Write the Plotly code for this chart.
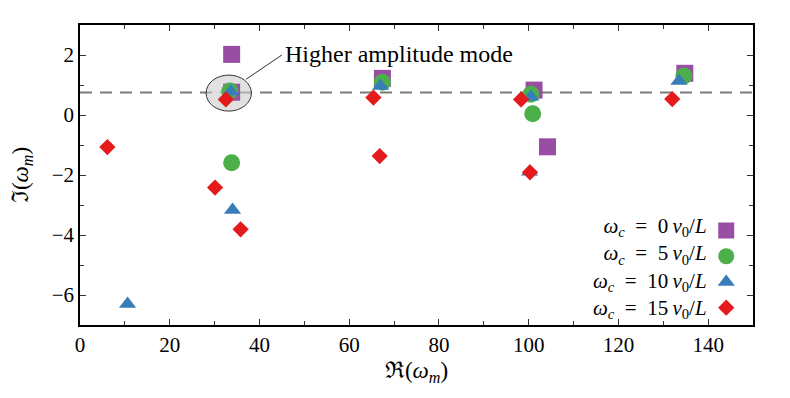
import plotly.graph_objects as go

# ---- data ----
re_w0 = [33.8, 33.8, 67.4, 101.2, 104.2, 134.8]
im_w0 = [2.02, 0.76, 1.22, 0.83, -1.06, 1.39]

re_w5 = [33.4, 33.8, 67.4, 100.5, 100.9, 134.6]
im_w5 = [0.80, -1.59, 1.09, 0.69, 0.04, 1.30]

re_w10 = [10.6, 34.0, 33.6, 67.0, 100.5, 100.2, 133.5]
im_w10 = [-6.30, -3.17, 0.78, 0.97, 0.61, -1.89, 1.13]

re_w15 = [6.1, 30.1, 32.5, 35.8, 65.4, 66.8, 98.3, 100.3, 132.0]
im_w15 = [-1.07, -2.42, 0.52, -3.81, 0.58, -1.37, 0.52, -1.91, 0.53]

threshold = 0.75
x_ticks = [0, 20, 40, 60, 80, 100, 120, 140]
y_ticks = [-6, -4, -2, 0, 2]

wc_values = ["0", "5", "10", "15"]
labels = ["<i>ω</i><sub><i>c</i></sub>\u2002=\u2002%s\u2009<i>v</i><sub>0</sub>/<i>L</i>" % v
          for v in wc_values]

FONT = "Liberation Serif"

series = [
    (re_w0, im_w0, labels[0], "#984ea3", "square", 17),
    (re_w5, im_w5, labels[1], "#4daf4a", "circle", 17),
    (re_w10, im_w10, labels[2], "#377eb8", "triangle-up", 15),
    (re_w15, im_w15, labels[3], "#e41a1c", "diamond", 12.5),
]

fig = go.Figure()
for xs, ys, name, color, sym, size in series:
    fig.add_trace(go.Scatter(
        x=xs, y=ys, mode="markers", name="\u00a0",
        marker=dict(color=color, symbol=sym, size=size, line=dict(width=0)),
    ))

# dashed reference line
fig.add_shape(type="line", xref="x", yref="y", x0=0, x1=150, y0=threshold, y1=threshold,
              line=dict(color="#7a7a7a", width=2, dash="12px,8px"), layer="below")
# ellipse around higher amplitude mode
fig.add_shape(type="circle", xref="x", yref="y", x0=28.1, x1=38.2, y0=0.13, y1=1.33,
              fillcolor="rgba(205,205,205,0.6)", line=dict(color="#333333", width=1), layer="below")
# connector line
fig.add_shape(type="line", xref="x", yref="y", x0=37.0, y0=1.19, x1=45.0, y1=2.0,
              line=dict(color="#333333", width=1))
fig.add_annotation(x=45.3, y=2.03, xref="x", yref="y", text="Higher amplitude mode",
                   showarrow=False, xanchor="left", yanchor="middle",
                   font=dict(family=FONT, size=24, color="black"))

# legend labels, right-aligned to the left of the legend markers
fig.add_annotation(x=0.935, y=0.19, xref="paper", yref="paper", text="<br>".join(labels),
                   showarrow=False, xanchor="right", yanchor="middle", align="right",
                   font=dict(family=FONT, size=21, color="black"))

axis_common = dict(
    showgrid=False, zeroline=False, showline=True, linecolor="black", linewidth=1.5,
    mirror="allticks", ticks="inside", ticklen=6, tickwidth=1, tickcolor="#333",
    tickfont=dict(family=FONT, size=21, color="black"), automargin=False,
)
fig.update_xaxes(range=[0, 150], tickvals=x_ticks,
                 minor=dict(ticks="inside", ticklen=4, dtick=10, tick0=0, tickcolor="#333"),
                 title=dict(text="ℜ(<i>ω</i><sub><i>m</i></sub>)", font=dict(family=FONT, size=23, color="black"), standoff=6),
                 **axis_common)
fig.update_yaxes(range=[-7, 3], tickvals=y_ticks,
                 minor=dict(ticks="inside", ticklen=4, dtick=1, tick0=0, tickcolor="#333"),
                 title=dict(text="ℑ(<i>ω</i><sub><i>m</i></sub>)", font=dict(family=FONT, size=23, color="black"), standoff=34),
                 **axis_common)

fig.update_layout(
    width=790, height=398,
    margin=dict(l=72, r=45, t=17, b=81),
    plot_bgcolor="white", paper_bgcolor="white",
    legend=dict(x=0.9305, y=-0.002, xanchor="left", yanchor="bottom",
                bgcolor="rgba(0,0,0,0)", font=dict(family=FONT, size=17.5, color="black"),
                tracegroupgap=0, itemwidth=30),
)

fig.write_html("out.html")
